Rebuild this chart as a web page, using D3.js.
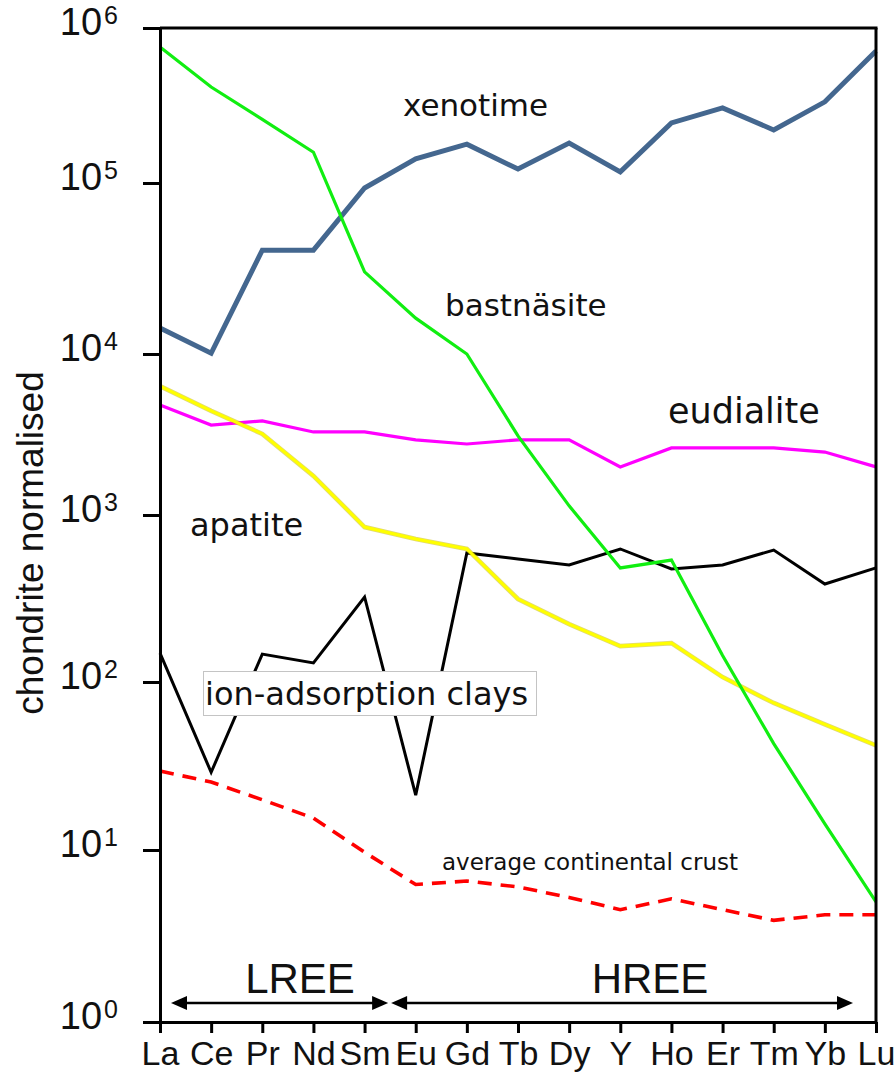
<!DOCTYPE html>
<html>
<head>
<meta charset="utf-8">
<script src="https://cdn.jsdelivr.net/npm/d3@7"></script>
<style>
  body { margin: 0; background: #fff; }
  svg { display: block; }
</style>
</head>
<body>
<svg id="chart"></svg>
<script>
// element order along the x axis
const elements = ['La', 'Ce', 'Pr', 'Nd', 'Sm', 'Eu', 'Gd', 'Tb', 'Dy', 'Y', 'Ho', 'Er', 'Tm', 'Yb', 'Lu']
const decades = [1, 10, 100, 1e3, 1e4, 1e5, 1e6]

// chondrite normalised values
const xenotime = [14200, 10100, 40500, 40500, 93500, 143000, 178000, 123000, 181000, 118000, 244000, 305000, 220000, 334000, 711000]
const bastnasite = [753000, 416000, 257000, 158000, 30200, 16200, 10000, 3100, 1140, 482, 537, 144, 43, 14.3, 5.0]
const eudialite = [4820, 3620, 3840, 3280, 3280, 2930, 2760, 2930, 2930, 1990, 2610, 2610, 2610, 2460, 1990]
const apatite = [6320, 4430, 3190, 1750, 847, 718, 626, 314, 222, 164, 171, 107, 75, 56, 42]
const ionClays = [149, 29, 147, 130, 323, 21.2, 592, 545, 502, 626, 475, 502, 617, 386, 482]
const crust = [29.5, 25.4, 19.9, 15.5, 9.7, 6.3, 6.6, 6.1, 5.3, 4.5, 5.2, 4.5, 3.9, 4.2, 4.2]

const W = 896, H = 1073
const AXIS_FONT = 'Liberation Sans, Arial, sans-serif'
const NOTE_FONT = 'DejaVu Sans, Verdana, sans-serif'

const svg = d3.select('#chart').attr('width', W).attr('height', H)
svg.append('rect').attr('width', W).attr('height', H).attr('fill', '#fff')

const x = d3.scalePoint().domain(elements).range([160, 876])
// the decades in the figure are not quite evenly spaced
const y = d3.scaleLog().domain(decades).range([1022, 850, 682, 515, 354, 183, 28])

const line = d3.line()
    .x((d, i) => x(elements[i]))
    .y(d => y(d))

// drawing order: bottom to top
const lines = [
    { values: crust, color: '#ff0000', width: 3.6, dash: '14,9' },
    { values: ionClays, color: '#000000', width: 3 },
    { values: eudialite, color: '#ff00ff', width: 3.2 },
    { values: apatite, color: '#c9bb00', width: 4.6, opacity: 0.55 },
    { values: apatite, color: '#ffff00', width: 3 },
    { values: xenotime, color: '#44678f', width: 5 },
    { values: bastnasite, color: '#11ee11', width: 3.2 }
]

const plot = svg.append('g')
plot.selectAll('.series')
    .data(lines)
    .enter()
    .append('path')
    .classed('series', true)
    .attr('d', d => line(d.values))
    .attr('fill', 'none')
    .attr('stroke', d => d.color)
    .attr('stroke-width', d => d.width)
    .attr('stroke-opacity', d => d.opacity || 1)
    .attr('stroke-dasharray', d => d.dash || null)
    .attr('stroke-linejoin', 'miter')

//axes
const yAxis = svg.append('g')
    .attr('transform', `translate(${x(elements[0])},0)`)
    .call(d3.axisLeft(y).tickValues(decades).tickSize(17).tickSizeOuter(0).tickFormat(''))
yAxis.selectAll('path, line').attr('stroke', '#000').attr('stroke-width', 3)
yAxis.selectAll('.tick text').remove()
yAxis.selectAll('.tick').each(function(d) {
    const t = d3.select(this).append('text')
        .attr('x', -42)
        .attr('y', 6)
        .attr('text-anchor', 'end')
        .attr('font-family', AXIS_FONT)
        .attr('fill', '#111')
    t.append('tspan').attr('font-size', 38).text('10')
    t.append('tspan').attr('font-size', 25).attr('dx', 2).attr('dy', -11).text(Math.round(Math.log10(d)))
})

const xAxis = svg.append('g')
    .attr('transform', `translate(0,${y(1)})`)
    .call(d3.axisBottom(x).tickSize(11).tickSizeOuter(0).tickPadding(8))
xAxis.selectAll('path, line').attr('stroke', '#000').attr('stroke-width', 3)
xAxis.selectAll('text')
    .attr('font-size', 34)
    .attr('font-family', AXIS_FONT)
    .attr('fill', '#111')

// top and right border
const frame = svg.append('g').attr('stroke', '#000').attr('stroke-width', 3)
frame.append('line')
    .attr('x1', x(elements[0])).attr('x2', x(elements[elements.length - 1]) + 1.5)
    .attr('y1', y(1e6)).attr('y2', y(1e6))
frame.append('line')
    .attr('x1', x(elements[elements.length - 1])).attr('x2', x(elements[elements.length - 1]))
    .attr('y1', y(1e6)).attr('y2', y(1))

svg.append('text')
    .attr('transform', 'translate(43,543) rotate(-90)')
    .attr('text-anchor', 'middle')
    .attr('font-family', AXIS_FONT)
    .attr('font-size', 37)
    .attr('fill', '#111')
    .text('chondrite normalised')

// LREE / HREE arrows
const arrowY = y(1) - 19
const split = (x('Sm') + x('Eu')) / 2
const arrows = [
    [x('La') + 11, split - 2],
    [split + 1, x('Lu') - 23]
]
const arrowG = svg.append('g')
arrows.forEach(([a, b]) => {
    arrowG.append('line')
        .attr('x1', a + 8).attr('x2', b - 8)
        .attr('y1', arrowY).attr('y2', arrowY)
        .attr('stroke', '#000').attr('stroke-width', 2.5)
    arrowG.append('path')
        .attr('d', `M${a},${arrowY}l16,-7v14z`)
        .attr('fill', '#000')
    arrowG.append('path')
        .attr('d', `M${b},${arrowY}l-16,-7v14z`)
        .attr('fill', '#000')
})

svg.append('g')
    .selectAll('text')
    .data([['LREE', 300], ['HREE', 650]])
    .enter()
    .append('text')
    .attr('x', d => d[1])
    .attr('y', 993)
    .attr('text-anchor', 'middle')
    .attr('font-family', AXIS_FONT)
    .attr('font-size', 42)
    .attr('fill', '#111')
    .text(d => d[0])

// series names
svg.append('rect')
    .attr('x', 203.5).attr('y', 671.5)
    .attr('width', 333).attr('height', 44)
    .attr('fill', '#fff')
    .attr('stroke', '#c4c4c4')
    .attr('stroke-width', 1)

const notes = [
    { text: 'xenotime', x: 403, y: 116, size: 31 },
    { text: 'bastnäsite', x: 445, y: 316, size: 31 },
    { text: 'eudialite', x: 668, y: 423, size: 35 },
    { text: 'apatite', x: 190, y: 536, size: 32 },
    { text: 'ion-adsorption clays', x: 205, y: 705, size: 32 },
    { text: 'average continental crust', x: 442, y: 870, size: 23 }
]
svg.append('g')
    .selectAll('.note')
    .data(notes)
    .enter()
    .append('text')
    .classed('note', true)
    .attr('x', d => d.x)
    .attr('y', d => d.y)
    .attr('font-family', NOTE_FONT)
    .attr('font-size', d => d.size)
    .attr('fill', '#111')
    .text(d => d.text)
</script>
</body>
</html>
